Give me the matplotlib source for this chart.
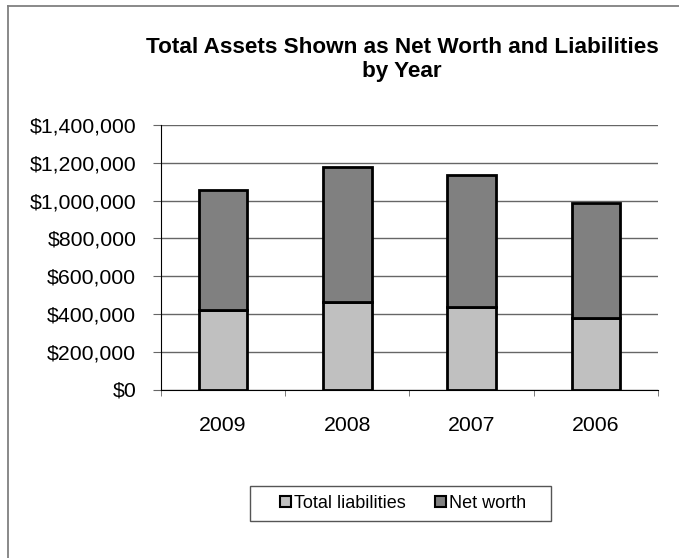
import matplotlib
matplotlib.use("Agg")
import matplotlib.pyplot as plt
from matplotlib.patches import Patch
from matplotlib.lines import Line2D
from matplotlib.ticker import FuncFormatter, MultipleLocator

# values
years = ["2009", "2008", "2007", "2006"]
liabilities = [423000, 463000, 436000, 380000]
net_worth = [633000, 713000, 700000, 608000]
series_names = ["Total liabilities", "Net worth"]

W, H = 679, 558
plt.rcParams["font.family"] = ["Liberation Sans", "DejaVu Sans"]

fig = plt.figure(figsize=(W / 100, H / 100), dpi=100)
ax = fig.add_axes([161 / W, 1 - 389.5 / H, (658 - 161) / W, (389.5 - 125) / H])

x = range(len(years))
bw = 0.39
ax.bar(x, liabilities, bw, color="#c0c0c0", edgecolor="black", linewidth=2, zorder=3)
ax.bar(x, net_worth, bw, bottom=liabilities, color="#808080",
       edgecolor="black", linewidth=2, zorder=3)

ax.set_xlim(-0.5, 3.5)
ax.set_ylim(0, 1400000)
ax.yaxis.set_major_locator(MultipleLocator(200000))
ax.yaxis.set_major_formatter(FuncFormatter(lambda v, p: "${:,.0f}".format(v)))
ax.grid(axis="y", color="#666666", linewidth=1, zorder=0)

ax.set_xticks(list(x))
ax.set_xticklabels(years)
ax.set_xticks([-0.5, 0.5, 1.5, 2.5, 3.5], minor=True)
ax.tick_params(axis="x", which="major", length=0, pad=19, labelsize=15.3)
ax.tick_params(axis="x", which="minor", length=4.3, color="#666666", direction="out")
ax.tick_params(axis="y", length=5.8, pad=12, labelsize=15.3, color="#666666")

for s in ["top", "right"]:
    ax.spines[s].set_visible(False)
ax.spines["left"].set_color("black")
ax.spines["bottom"].set_color("black")

# title, two lines
fig.text(402 / W, 1 - 53 / H, "Total Assets Shown as Net Worth and Liabilities",
         ha="center", va="baseline", fontsize=16.2, fontweight="bold")
fig.text(402 / W, 1 - 77 / H, "by Year",
         ha="center", va="baseline", fontsize=16.2, fontweight="bold")

# legend with its own frame
handles = [Patch(facecolor="#c0c0c0", edgecolor="black", linewidth=1.5),
           Patch(facecolor="#808080", edgecolor="black", linewidth=1.5)]
fig.legend(handles, series_names, loc="center", ncol=2,
           bbox_to_anchor=(403 / W, 1 - 503.5 / H), frameon=False, fontsize=13,
           handlelength=0.6, handleheight=0.6, handletextpad=0.2,
           columnspacing=1.6, borderpad=0)
fig.add_artist(plt.Rectangle((250 / W, 1 - 521 / H), 301 / W, 35 / H,
                             transform=fig.transFigure, fill=False,
                             edgecolor="#555555", linewidth=1))

# chart area border (only top and left show)
fig.add_artist(Line2D([8 / W, 1], [1 - 6 / H, 1 - 6 / H], transform=fig.transFigure,
                      color="#808080", linewidth=1.3))
fig.add_artist(Line2D([8 / W, 8 / W], [0, 1 - 6 / H], transform=fig.transFigure,
                      color="#808080", linewidth=1.3))

fig.savefig("out.png", dpi=100)
